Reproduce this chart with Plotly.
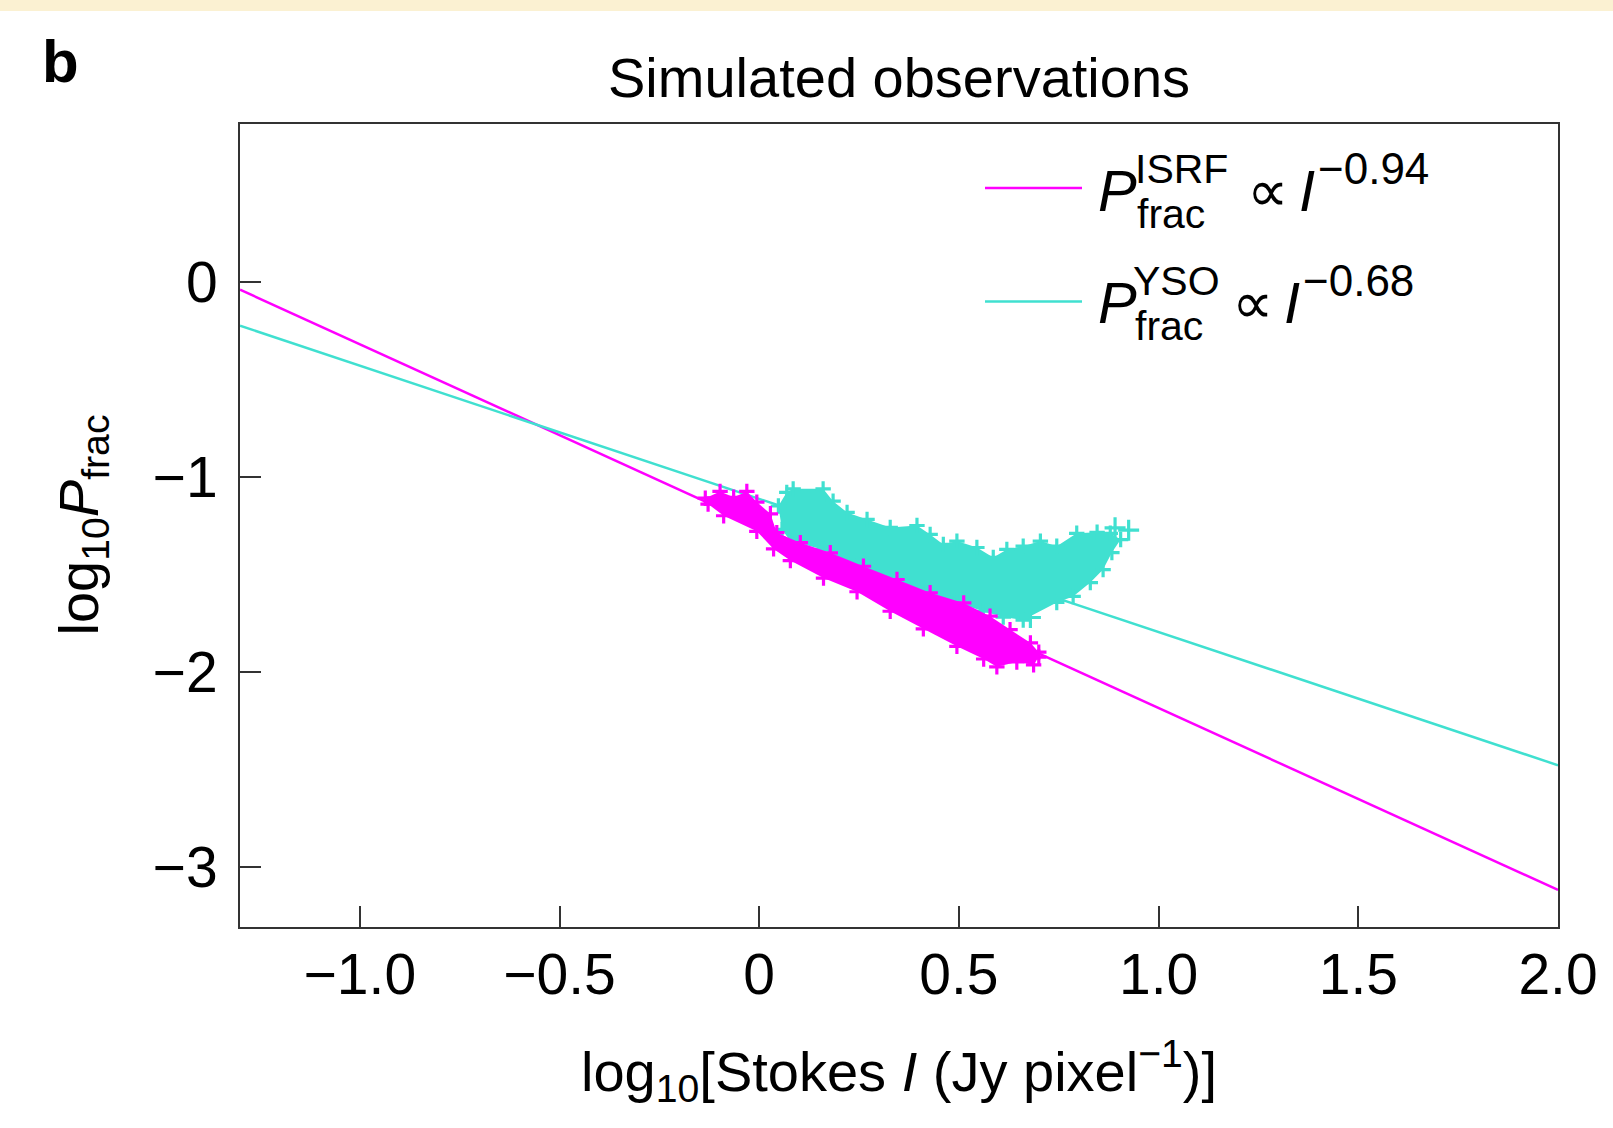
import plotly.graph_objects as go

# ---------------- data ----------------
# Fit lines: end points at the x-axis limits
line_x = [-1.3, 2.0]
isrf_line_y = [-0.04, -3.12]
yso_line_y = [-0.225, -2.48]

# ISRF (magenta) simulated points: outline of the dense cloud (upper edge L->R, lower edge R->L)
isrf_x = [-0.135, -0.098, -0.064, -0.031, -0.006, 0.028, 0.044, 0.103, 0.178, 0.261, 0.345, 0.428, 0.512, 0.578,
          0.628, 0.679, 0.700,
          0.700, 0.687, 0.645, 0.595, 0.562, 0.495, 0.411, 0.328, 0.245, 0.161, 0.078, 0.036, -0.006, -0.089, -0.128]
isrf_y = [-1.110, -1.075, -1.105, -1.075, -1.130, -1.190, -1.287, -1.338, -1.390, -1.459, -1.527, -1.595, -1.647, -1.715,
          -1.784, -1.852, -1.900,
          -1.925, -1.965, -1.950, -1.975, -1.935, -1.870, -1.780, -1.690, -1.590, -1.520, -1.430, -1.370, -1.280, -1.200, -1.140]

# YSO (turquoise) simulated points: outline of the dense cloud
yso_x = [0.048, 0.069, 0.085, 0.160, 0.185, 0.220, 0.270, 0.328, 0.395, 0.428, 0.461, 0.495, 0.545, 0.586,
         0.620, 0.661, 0.704, 0.745, 0.795, 0.846, 0.879, 0.905,
         0.883, 0.861, 0.829, 0.786, 0.745, 0.661, 0.611, 0.561, 0.495, 0.411, 0.328, 0.245, 0.160, 0.078, 0.057]
yso_y = [-1.150, -1.080, -1.062, -1.062, -1.125, -1.183, -1.219, -1.260, -1.250, -1.296, -1.347, -1.330, -1.363, -1.414,
         -1.373, -1.356, -1.330, -1.356, -1.290, -1.285, -1.290, -1.322,
         -1.389, -1.476, -1.543, -1.614, -1.645, -1.735, -1.720, -1.690, -1.645, -1.594, -1.527, -1.459, -1.373, -1.330, -1.270]
# isolated YSO points
yso_out_x = [0.891, 0.925, 0.679]
yso_out_y = [-1.262, -1.274, -1.722]

x_tickvals = [-1.0, -0.5, 0, 0.5, 1.0, 1.5, 2.0]
x_ticktext = ["\u22121.0", "\u22120.5", "0", "0.5", "1.0", "1.5", "2.0"]
y_tickvals = [0, -1, -2, -3]
y_ticktext = ["0", "\u22121", "\u22122", "\u22123"]

MAGENTA = "#FF00FF"
TURQ = "#40E0D0"
FONT = "Liberation Sans"

# ---------------- figure ----------------
W, H = 1613, 1128
L, R, T, B = 240, 55, 124, 201
PW, PH = W - L - R, H - T - B


def px(X):
    return (X - L) / PW


def py(Y):
    return (H - B - Y) / PH


fig = go.Figure()

fig.add_trace(go.Scatter(x=line_x, y=isrf_line_y, mode="lines",
                         line=dict(color=MAGENTA, width=2.5), showlegend=False, hoverinfo="skip"))
fig.add_trace(go.Scatter(x=line_x, y=yso_line_y, mode="lines",
                         line=dict(color=TURQ, width=2.5), showlegend=False, hoverinfo="skip"))


def cross(color, size=11):
    return dict(color=color, symbol="cross-thin", size=size, line=dict(color=color, width=3.2))


fig.add_trace(go.Scatter(x=yso_x, y=yso_y, mode="markers", fill="toself", fillcolor=TURQ,
                         marker=cross(TURQ), showlegend=False))
fig.add_trace(go.Scatter(x=yso_out_x, y=yso_out_y, mode="markers",
                         marker=cross(TURQ, 15), showlegend=False))
fig.add_trace(go.Scatter(x=isrf_x, y=isrf_y, mode="markers", fill="toself", fillcolor=MAGENTA,
                         marker=cross(MAGENTA), showlegend=False))

ann = []


def text_at(s, X, baseline, fs, anchor="left"):
    mid = baseline - 0.3465 * fs
    ann.append(dict(text=s, x=px(X), y=py(mid), xref="paper", yref="paper",
                    xanchor=anchor, yanchor="middle", showarrow=False,
                    font=dict(family=FONT, size=fs, color="black")))


# panel letter and title
ann.append(dict(text="<b>b</b>", x=px(40), y=py(26), xref="paper", yref="paper",
                xanchor="left", yanchor="top", showarrow=False,
                font=dict(family=FONT, size=60, color="black")))
text_at("Simulated observations", 899, 97, 56, anchor="center")

# axis titles
text_at("log<sub>10</sub>[Stokes <i>I</i> (Jy pixel<sup>\u22121</sup>)]", 899, 1090, 56, anchor="center")
ann.append(dict(text="log<sub>10</sub><i>P</i><sub>frac</sub>", x=px(44), y=py(525),
                xref="paper", yref="paper", xanchor="left", yanchor="middle", textangle=-90,
                showarrow=False, font=dict(family=FONT, size=56, color="black")))

# legend texts
rows = [(211, "ISRF", "\u22120.94", 1133, 1245, 1297, 1316),
        (323, "YSO", "\u22120.68", 1131, 1230, 1282, 1301)]
for base, sup, expo, xsup, xprop, xI, xexp in rows:
    text_at("<i>P</i>", 1096, base, 58)
    text_at(sup, xsup, base - 28, 41)
    text_at("frac", xsup + 2, base + 17, 41)
    text_at("\u221d", xprop, base, 58)
    text_at("<i>I</i>", xI, base, 58)
    text_at(expo, xexp, base - 27, 44)

shapes = [
    dict(type="line", xref="paper", yref="paper", x0=px(985), x1=px(1082), y0=py(188), y1=py(188),
         line=dict(color=MAGENTA, width=2.5)),
    dict(type="line", xref="paper", yref="paper", x0=px(985), x1=px(1082), y0=py(301.5), y1=py(301.5),
         line=dict(color=TURQ, width=2.5)),
    dict(type="rect", xref="paper", yref="paper", x0=px(0), x1=px(W), y0=py(0), y1=py(11),
         fillcolor="#FBF1D2", line=dict(width=0), layer="below"),
]

axis_common = dict(showgrid=False, zeroline=False, showline=True, mirror=True,
                   linecolor="#333333", linewidth=2, ticks="inside", ticklen=21,
                   tickwidth=2, tickcolor="#333333",
                   tickfont=dict(family=FONT, size=57, color="black"))

fig.update_layout(
    width=W, height=H, autosize=False,
    margin=dict(l=L, r=R, t=T, b=B, pad=0),
    paper_bgcolor="white", plot_bgcolor="white",
    showlegend=False,
    annotations=ann, shapes=shapes,
    xaxis=dict(range=[-1.3, 2.0], tickvals=x_tickvals, ticktext=x_ticktext,
               ticklabelstandoff=-3, **axis_common),
    yaxis=dict(range=[-3.31, 0.81], tickvals=y_tickvals, ticktext=y_ticktext,
               ticklabelstandoff=9, **axis_common),
)

fig.write_html("out.html", config={"displayModeBar": False},
               post_script="document.body.style.margin='0px';document.body.style.overflow='hidden';")
